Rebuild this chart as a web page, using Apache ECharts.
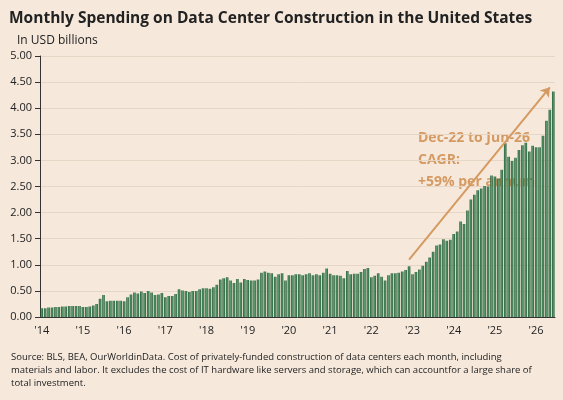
<!DOCTYPE html>
<html>
<head>
<meta charset="utf-8">
<script src="https://cdn.jsdelivr.net/npm/echarts@6/dist/echarts.min.js"></script>
<style>
  html, body { margin: 0; padding: 0; background: #f6e9dc; }
  #main { width: 563px; height: 400px; }
</style>
</head>
<body>
<div id="main"></div>
<script>
// monthly spending, USD billions, Jan-2014 .. Jun-2026
const y2014 = [0.17, 0.17, 0.18, 0.18, 0.19, 0.19, 0.20, 0.20, 0.21, 0.21, 0.21, 0.21];
const y2015 = [0.19, 0.19, 0.20, 0.22, 0.25, 0.35, 0.42, 0.30, 0.31, 0.31, 0.31, 0.31];
const y2016 = [0.30, 0.38, 0.43, 0.47, 0.45, 0.49, 0.46, 0.50, 0.47, 0.42, 0.43, 0.46];
const y2017 = [0.38, 0.40, 0.40, 0.44, 0.53, 0.51, 0.50, 0.48, 0.50, 0.50, 0.53, 0.55];
const y2018 = [0.55, 0.54, 0.57, 0.62, 0.72, 0.74, 0.76, 0.70, 0.65, 0.73, 0.66, 0.73];
const y2019 = [0.71, 0.70, 0.70, 0.72, 0.85, 0.87, 0.85, 0.84, 0.77, 0.82, 0.84, 0.70];
const y2020 = [0.80, 0.80, 0.82, 0.82, 0.80, 0.82, 0.84, 0.80, 0.82, 0.80, 0.85, 0.93];
const y2021 = [0.83, 0.80, 0.80, 0.79, 0.74, 0.88, 0.82, 0.83, 0.83, 0.86, 0.92, 0.94];
const y2022 = [0.76, 0.79, 0.84, 0.77, 0.70, 0.80, 0.84, 0.84, 0.85, 0.87, 0.90, 0.97];
const y2023 = [0.82, 0.86, 0.91, 0.98, 1.06, 1.14, 1.25, 1.37, 1.39, 1.49, 1.46, 1.48];
const y2024 = [1.59, 1.64, 1.83, 1.78, 2.04, 2.25, 2.34, 2.43, 2.46, 2.51, 2.50, 2.71];
const y2025 = [2.69, 2.65, 2.82, 3.33, 3.07, 2.99, 3.05, 3.20, 3.29, 3.34, 3.17, 3.28];
const y2026 = [3.25, 3.25, 3.47, 3.76, 3.97, 4.32];

const values = [].concat(y2014, y2015, y2016, y2017, y2018, y2019, y2020,
  y2021, y2022, y2023, y2024, y2025, y2026);
const yearLabels = ["'14", "'15", "'16", "'17", "'18", "'19", "'20", "'21", "'22", "'23", "'24", "'25", "'26"];

const months = values.map((v, i) => i);

const chart = echarts.init(document.getElementById('main'));

const option = {
  backgroundColor: '#f6e9dc',
  textStyle: { fontFamily: 'Open Sans' },
  title: [{
    text: 'Monthly Spending on Data Center Construction in the United States',
    left: 4, top: 6,
    textStyle: { fontSize: 15.5, fontWeight: 'bold', color: '#222' }
  }, {
    text: 'In USD billions',
    left: 12, top: 30,
    textStyle: { fontSize: 12, fontWeight: 'normal', color: '#222' }
  }, {
    text: 'Source: BLS, BEA, OurWorldinData. Cost of privately-funded construction of data centers each month, including\nmaterials and labor. It excludes the cost of IT hardware like servers and storage, which can accountfor a large share of\ntotal investment.',
    left: 6, top: 346,
    textStyle: { fontSize: 9.5, fontWeight: 'normal', color: '#222', lineHeight: 13 }
  }],
  grid: { left: 40, right: 8, top: 56, bottom: 83 },
  xAxis: {
    type: 'category',
    data: months,
    boundaryGap: true,
    axisLine: { lineStyle: { color: '#333' } },
    axisTick: {
      alignWithLabel: true,
      interval: (i) => i % 12 === 0,
      lineStyle: { color: '#333' }
    },
    axisLabel: {
      interval: (i) => i % 12 === 0,
      formatter: (v, i) => yearLabels[i / 12] || '',
      color: '#222', fontSize: 11, margin: 8
    }
  },
  yAxis: {
    type: 'value',
    min: 0, max: 5, interval: 0.5,
    axisLine: { show: true, lineStyle: { color: '#333' } },
    axisTick: { show: true, lineStyle: { color: '#333' } },
    axisLabel: { formatter: (v) => v.toFixed(2), color: '#222', fontSize: 11 },
    splitLine: { lineStyle: { color: '#e6d6c6' } }
  },
  series: [{
    type: 'bar',
    data: values,
    barCategoryGap: '25%',
    itemStyle: {
      color: new echarts.graphic.LinearGradient(0, 0, 1, 0, [
        { offset: 0, color: '#1f5a36' },
        { offset: 0.5, color: '#5d9a6c' },
        { offset: 1, color: '#1f5a36' }
      ])
    },
    markLine: {
      silent: true,
      symbol: ['none', 'arrow'],
      symbolSize: 9,
      lineStyle: { color: '#d59a62', width: 2, type: 'solid' },
      label: { show: false },
      data: [[{ coord: [107, 1.1] }, { coord: [148, 4.4] }]]
    }
  }],
  graphic: [{
    type: 'text',
    left: 418, top: 127,
    style: {
      text: 'Dec-22 to Jun-26\nCAGR:\n+59% per annum',
      fill: '#d59a62', font: 'bold 14px "Open Sans"',
      align: 'right', lineHeight: 22
    },
    right: 52
  }]
};

chart.setOption(option);
</script>
</body>
</html>
